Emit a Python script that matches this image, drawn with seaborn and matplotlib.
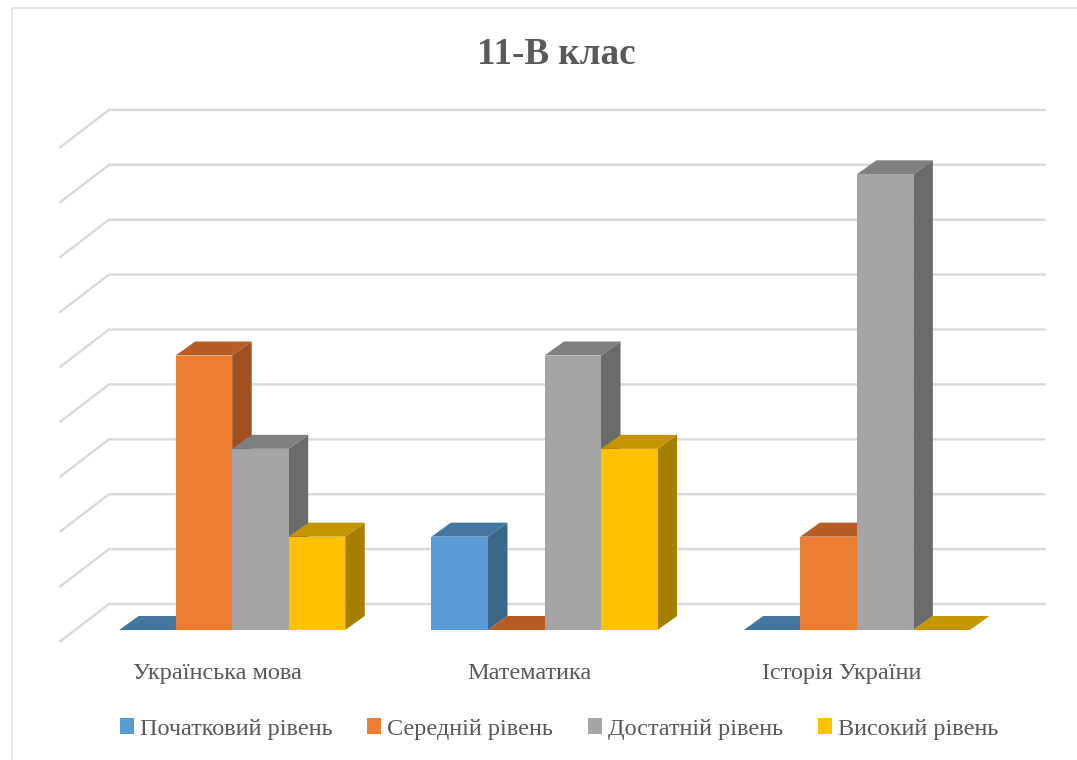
import pandas as pd
import matplotlib
matplotlib.use('Agg')
import matplotlib.pyplot as plt
from matplotlib.lines import Line2D
from matplotlib.patches import Polygon
from matplotlib.transforms import ScaledTranslation
import seaborn as sns

# Chart data (percent of pupils per level)
subjects = ['Українська мова', 'Математика', 'Історія України']
levels = ['Початковий рівень', 'Середній рівень', 'Достатній рівень', 'Високий рівень']
pochatkovyi = [0, 17, 0]
serednii = [50, 0, 17]
dostatnii = [33, 50, 83]
vysokyi = [17, 33, 0]
grid_values = [0, 10, 20, 30, 40, 50, 60, 70, 80, 90]

front_colors = ['#5B9BD5', '#ED7D31', '#A5A5A5', '#FFC000']
top_colors = ['#44779F', '#B55D24', '#7F7F7F', '#C49500']
side_colors = ['#3C678A', '#9E511E', '#6B6B6B', '#A67F00']
text_color = '#595959'
grid_color = '#D9D9D9'

sns.set_theme(style='white')
plt.rcParams['font.family'] = ['Liberation Serif', 'DejaVu Serif']

df = pd.DataFrame({
    'subject': subjects * 4,
    'level': [lv for lv in levels for _ in subjects],
    'value': pochatkovyi + serednii + dostatnii + vysokyi,
})

W, H = 1077, 760
fig = plt.figure(figsize=(W / 100, H / 100), dpi=100, facecolor='white')

# axes in pixels: value 0 sits on y=630, one category is 312.3 px wide
y_scale = 5.49
ax = fig.add_axes([76 / W, (H - 630) / H, 937 / W, 100 * y_scale / H])
x_scale = 937 / 3

sns.barplot(data=df, x='subject', y='value', hue='level', order=subjects, hue_order=levels,
            palette=front_colors, width=0.724, gap=0, saturation=1, linewidth=0, ax=ax)
ax.set_xlim(-0.5, 2.5)
ax.set_ylim(0, 100)

# fake 3D depth for the bars
bar_dx = 19.5 / x_scale
bar_dy = 14 / y_scale
for i, container in enumerate(ax.containers):
    for bar in container:
        z = 3 + i
        bar.set_zorder(z + 0.2)
        x0, x1 = bar.get_x(), bar.get_x() + bar.get_width()
        top = bar.get_height()
        ax.add_patch(Polygon([(x1, top), (x1 + bar_dx, top + bar_dy), (x1 + bar_dx, bar_dy), (x1, 0)],
                             facecolor=side_colors[i], lw=0, zorder=z, clip_on=False))
        ax.add_patch(Polygon([(x0, top), (x0 + bar_dx, top + bar_dy), (x1 + bar_dx, top + bar_dy), (x1, top)],
                             facecolor=top_colors[i], lw=0, zorder=z + 0.1, clip_on=False))

# gridlines: back wall plus the slanted part on the side wall
wall_left = (60 - 76) / x_scale - 0.5
wall_mid = (109 - 76) / x_scale - 0.5
wall_right = (1045 - 76) / x_scale - 0.5
front_off = -11.5 / y_scale
back_off = 26 / y_scale
for v in grid_values:
    ax.plot([wall_left, wall_mid, wall_right], [v + front_off, v + back_off, v + back_off],
            color=grid_color, lw=1.7, zorder=1, clip_on=False, solid_joinstyle='miter')

for s in ax.spines.values():
    s.set_visible(False)
ax.patch.set_visible(False)
ax.set_xlabel('')
ax.set_ylabel('')
ax.set_yticks([])
ax.tick_params(axis='x', length=0, pad=24, labelsize=17.5, labelcolor=text_color)
shift = ScaledTranslation(-15 / 100, 0, fig.dpi_scale_trans)
for lab in ax.get_xticklabels():
    lab.set_transform(lab.get_transform() + shift)

leg = ax.legend(ncol=4, loc='center', bbox_to_anchor=(559 / W, (H - 729) / H),
                bbox_transform=fig.transFigure, frameon=False, fontsize=17.5,
                handlelength=0.58, handleheight=0.58, handletextpad=0.25, columnspacing=1.42,
                labelcolor=text_color)

fig.text(556 / W, (H - 54) / H, '11-В клас', ha='center', va='center', fontsize=26.7,
         fontweight='bold', color=text_color)

# thin chart frame, only top and left are inside the picture
fig.add_artist(Line2D([11.5 / W, 11.5 / W, 1], [0, (H - 7.5) / H, (H - 7.5) / H],
                      color='#E4E4E4', lw=1.3, transform=fig.transFigure))

fig.savefig('out.png', dpi=100)
